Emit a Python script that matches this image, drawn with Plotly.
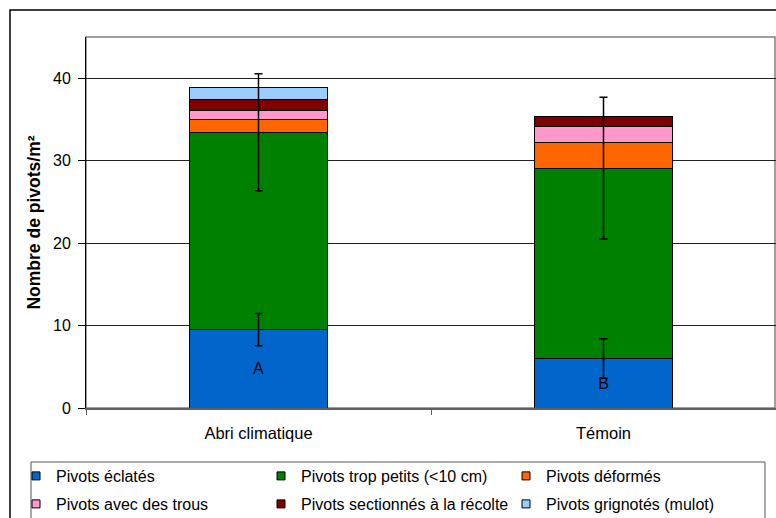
import plotly.graph_objects as go

categories = ["Abri climatique", "Témoin"]
eclates = [9.5, 6.0]
trop_petits = [23.95, 23.1]
deformes = [1.6, 3.15]
trous = [1.05, 1.85]
sectionnes = [1.3, 1.25]
grignotes = [1.5, 0]
err_eclates = [1.95, 2.4]
err_trop_petits = [7.1, 8.6]
letters = ["A", "B"]

series_names = ["Pivots éclatés", "Pivots trop petits (<10 cm)", "Pivots déformés",
                "Pivots avec des trous", "Pivots sectionnés à la récolte", "Pivots grignotés (mulot)"]
series_values = [eclates, trop_petits, deformes, trous, sectionnes, grignotes]
colors = ["#0066CC", "#008000", "#FF6600", "#FF99CC", "#800000", "#99CCFF"]

FONT = "Liberation Sans, Arial, sans-serif"
W, H = 776, 518
L, R, T, B = 86, 0, 37, 110
pw, ph = W - L - R, H - T - B

def px_x(p):
    return (p - L) / pw

def px_y(p):
    return (H - B - p) / ph

fig = go.Figure()
for i, (name, vals, col) in enumerate(zip(series_names, series_values, colors)):
    fig.add_trace(go.Bar(
        x=categories, y=vals, name=name, showlegend=False,
        marker=dict(color=col, line=dict(color="black", width=1)),
        width=0.4,
        text=letters if i == 0 else None,
        textposition="inside" if i == 0 else None,
        insidetextanchor="middle",
        textangle=0,
        textfont=dict(color="black", size=16, family=FONT),
        hoverinfo="skip",
    ))

# error bars (drawn above all bar segments)
tops_eclates = eclates
tops_petits = [a + b for a, b in zip(eclates, trop_petits)]
for ys, errs in [(tops_eclates, err_eclates), (tops_petits, err_trop_petits)]:
    fig.add_trace(go.Scatter(
        x=categories, y=ys, mode="markers", showlegend=False,
        marker=dict(size=1, color="rgba(0,0,0,0)"),
        error_y=dict(type="data", array=errs, visible=True, color="black",
                     thickness=1.5, width=4),
        hoverinfo="skip",
    ))

# legend entries with small square symbols, split in two rows (two legends)
for i, (name, col) in enumerate(zip(series_names, colors)):
    fig.add_trace(go.Scatter(
        x=[categories[0]], y=[None], mode="markers", name=name,
        legend="legend" if i < 3 else "legend2",
        marker=dict(symbol="square", size=8, color=col, line=dict(color="black", width=1)),
    ))

shapes = [
    # outer frame
    dict(type="rect", xref="paper", yref="paper", x0=px_x(10), x1=px_x(800),
         y0=px_y(540), y1=px_y(10), line=dict(color="black", width=1.5), layer="below"),
    # plot area border
    dict(type="rect", xref="paper", yref="paper", x0=0, x1=px_x(775), y0=0, y1=1,
         line=dict(color="#808080", width=1.5), layer="below"),
    # legend box
    dict(type="rect", xref="paper", yref="paper", x0=px_x(31), x1=px_x(765),
         y0=px_y(540), y1=px_y(462), line=dict(color="#555555", width=1), layer="below"),
]

legend_common = dict(orientation="h", xanchor="left", yanchor="top",
                     entrywidth=200, bgcolor="rgba(0,0,0,0)", borderwidth=0,
                     font=dict(size=16, family=FONT), itemclick=False,
                     traceorder="normal")

fig.update_layout(
    width=W, height=H,
    margin=dict(l=L, r=R, t=T, b=B, pad=0, autoexpand=False),
    paper_bgcolor="white", plot_bgcolor="white",
    barmode="stack",
    font=dict(family=FONT, size=16, color="black"),
    showlegend=True,
    legend=dict(x=px_x(16), y=px_y(459), **legend_common),
    legend2=dict(x=px_x(16), y=px_y(487), **legend_common),
    shapes=shapes,
    xaxis=dict(showgrid=False, showline=True, linecolor="#606060", linewidth=2,
               ticks="outside", tickson="boundaries", ticklen=5, tickcolor="#606060",
               tickfont=dict(size=16.5), fixedrange=True, ticklabelstandoff=9,
               automargin=False),
    yaxis=dict(range=[0, 45], tickvals=[0, 10, 20, 30, 40], showgrid=True,
               gridcolor="#222222", gridwidth=1, zeroline=False,
               showline=True, linecolor="black", linewidth=1,
               ticks="outside", ticklen=7, tickcolor="black",
               tickfont=dict(size=16), ticklabelstandoff=4,
               title=dict(text="<b>Nombre de pivots/m²</b>", font=dict(size=17.5), standoff=7),
               fixedrange=True, automargin=False),
)

fig.write_html("out.html", post_script="document.body.style.margin='0';",
               config={"displayModeBar": False})
